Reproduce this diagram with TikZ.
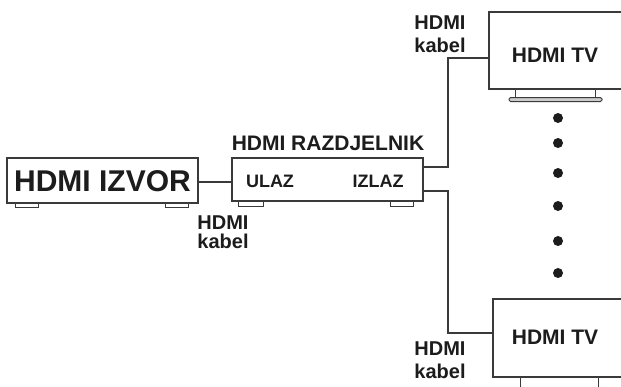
\documentclass[tikz,border=0pt]{standalone}
\usepackage{fontspec}
\setmainfont{Liberation Sans}
\begin{document}
\begin{tikzpicture}[x=1pt,y=-1pt,
  box/.style={draw=linec,line width=1.4pt,fill=white,inner sep=0pt},
  lbl/.style={font=\bfseries\fontsize{#1}{#1}\selectfont,text=txtc,inner sep=0pt},
  cable/.style={draw=linec,line width=1.3pt},
  foot/.style={draw=linec,line width=1pt,fill=white},
  dotn/.style={circle,fill=txtc,minimum size=10pt,inner sep=0pt}]
\definecolor{linec}{HTML}{3A3A3A}
\definecolor{txtc}{HTML}{1C1C1C}
\clip (0,0) rectangle (621,386);
\fill[white] (0,0) rectangle (621,386);
% source
\draw[foot] (15,202) rectangle (38,207);
\draw[foot] (165,202) rectangle (188,207);
\node[box,minimum width=191pt,minimum height=45pt] (src) at (102.5,180.5) {};
\node[lbl=30] (srct) at (102.5,181) {HDMI IZVOR};
% splitter
\draw[foot] (238,200) rectangle (263,206);
\draw[foot] (390,200) rectangle (413,206);
\node[box,minimum width=191pt,minimum height=43pt] (split) at (327.5,179.5) {};
\node[lbl=21] (splitt) at (328,143) {HDMI RAZDJELNIK};
\node[lbl=18] (ulaz) at (270,181) {ULAZ};
\node[lbl=18] (izlaz) at (378,181) {IZLAZ};
% TVs
\draw[linec,line width=1pt] (515,88) -- (515,98) (595,88) -- (595,98);
\draw[foot,rounded corners=1.5pt,fill=gray!40] (509,97.5) rectangle (602,101.5);
\node[box,minimum width=170pt,minimum height=77pt] (tv1) at (574,50.5) {};
\node[lbl=21] (tv1t) at (555,55) {HDMI TV};
\draw[linec,line width=1pt] (520,376) -- (520,390) (598,376) -- (598,390);
\node[box,minimum width=170pt,minimum height=78pt] (tv2) at (578,338) {};
\node[lbl=21] (tv2t) at (555,337) {HDMI TV};
% dots
\foreach \i/\yy in {1/118,2/143,3/173,4/206,5/241,6/273}
  \node[dotn] (d\i) at (558,\yy) {};
% cables
\coordinate (kA) at (448,167);
\coordinate (kB) at (448,58);
\coordinate (kC) at (448,191);
\coordinate (kD) at (448,333);
\draw[cable] (src.east |- 0,182) -- (split.west |- 0,182);
\draw[cable] (split.east |- kA) -- (kA) -- (kB) -- (kB -| tv1.west);
\draw[cable] (split.east |- kC) -- (kC) -- (kD) -- (kD -| tv2.west);
% labels
\node[lbl=20,align=center,font=\bfseries\fontsize{20}{23}\selectfont] (k1) at (440,34) {HDMI\\kabel};
\node[lbl=20,align=center,font=\bfseries\fontsize{20}{23}\selectfont] (k2) at (440,360) {HDMI\\kabel};
\node[lbl=20,align=center,font=\bfseries\fontsize{20}{19}\selectfont] (k3) at (223,232) {HDMI\\kabel};
\end{tikzpicture}
\end{document}
